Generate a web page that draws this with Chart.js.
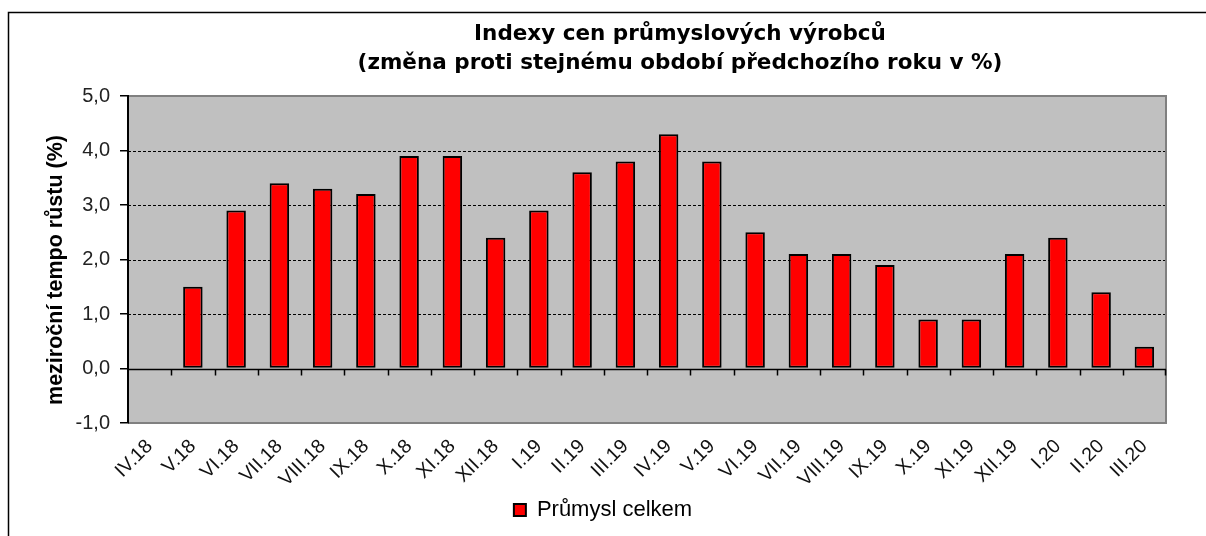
<!DOCTYPE html>
<html>
<head>
<meta charset="utf-8">
<script src="https://cdn.jsdelivr.net/npm/chart.js@4"></script>
<style>
html,body{margin:0;padding:0;background:#fff;}
#c{display:block;}
</style>
</head>
<body>
<canvas id="c" width="1206" height="536" style="width:1206px;height:536px"></canvas>
<script>
// ---- data ----
const titleLines = ['Indexy cen průmyslových výrobců', '(změna proti stejnému období předchozího roku v %)'];
const categories = ['IV.18','V.18','VI.18','VII.18','VIII.18','IX.18','X.18','XI.18','XII.18',
  'I.19','II.19','III.19','IV.19','V.19','VI.19','VII.19','VIII.19','IX.19','X.19','XI.19','XII.19',
  'I.20','II.20','III.20'];
const seriesName = 'Průmysl celkem';
const values = [null, 1.5, 2.9, 3.4, 3.3, 3.2, 3.9, 3.9, 2.4,
  2.9, 3.6, 3.8, 4.3, 3.8, 2.5, 2.1, 2.1, 1.9, 0.9, 0.9, 2.1,
  2.4, 1.4, 0.4];
const yAxisTitle = 'meziroční tempo růstu (%)';
const yMin = -1, yMax = 5, yStep = 1;

// ---- decoration plugin ----
const decor = {
  id: 'decor',
  beforeDraw(chart) {
    const {ctx, chartArea: a, scales: {y}} = chart;
    ctx.save();
    ctx.fillStyle = '#fff';
    ctx.fillRect(0, 0, chart.width, chart.height);
    // outer frame
    ctx.strokeStyle = '#000';
    ctx.lineWidth = 1.5;
    ctx.strokeRect(8.5, 12.5, chart.width + 40, chart.height + 40);
    // plot background
    ctx.fillStyle = '#c0c0c0';
    ctx.fillRect(a.left, a.top, a.right - a.left, a.bottom - a.top);
    // dashed grid
    ctx.strokeStyle = '#000';
    ctx.lineWidth = 1;
    ctx.setLineDash([3, 2]);
    y.ticks.forEach(t => {
      if (t.value > yMin && t.value < yMax && t.value !== 0) {
        const py = Math.round(y.getPixelForValue(t.value)) + 0.5;
        ctx.beginPath(); ctx.moveTo(a.left, py); ctx.lineTo(a.right, py); ctx.stroke();
      }
    });
    ctx.setLineDash([]);
    // plot border (gray)
    ctx.strokeStyle = '#808080';
    ctx.lineWidth = 2;
    ctx.beginPath();
    ctx.moveTo(a.left, a.top); ctx.lineTo(a.right, a.top);
    ctx.lineTo(a.right, a.bottom); ctx.lineTo(a.left, a.bottom);
    ctx.stroke();
    ctx.restore();
  },
  afterDatasetsDraw(chart) {
    const {ctx, chartArea: a, scales: {x, y}} = chart;
    ctx.save();
    const y0 = Math.round(y.getPixelForValue(0)) + 0.5;
    ctx.strokeStyle = '#000';
    ctx.lineWidth = 1.5;
    ctx.beginPath(); ctx.moveTo(a.left, y0); ctx.lineTo(a.right, y0); ctx.stroke();
    const n = categories.length;
    for (let i = 1; i <= n; i++) {
      const xx = i < n ? Math.round((x.getPixelForValue(i - 1) + x.getPixelForValue(i)) / 2) + 0.5 : a.right - 0.5;
      ctx.beginPath(); ctx.moveTo(xx, y0); ctx.lineTo(xx, y0 + 6); ctx.stroke();
    }
    ctx.restore();
  },
  afterDraw(chart) {
    const {ctx, chartArea: a} = chart;
    ctx.save();
    ctx.fillStyle = '#000';
    ctx.font = 'bold 21.5px "DejaVu Sans"';
    ctx.textAlign = 'center';
    ctx.textBaseline = 'middle';
    ctx.fillText(titleLines[0], 680, 34);
    ctx.fillText(titleLines[1], 680, 63);
    // y axis title
    ctx.font = 'bold 21.5px "Liberation Sans", Arial, sans-serif';
    ctx.translate(56, 270);
    ctx.rotate(-Math.PI / 2);
    ctx.fillText(yAxisTitle, 0, 0);
    ctx.restore();
  }
};

new Chart(document.getElementById('c'), {
  type: 'bar',
  data: {
    labels: categories,
    datasets: [{
      label: seriesName,
      data: values,
      backgroundColor: '#ff0000',
      borderColor: '#000000',
      borderWidth: 2,
      borderSkipped: false,
      barPercentage: 0.45,
      categoryPercentage: 1.0
    }]
  },
  options: {
    responsive: false,
    animation: false,
    layout: { padding: { left: 40, right: 40, top: 96, bottom: 5 } },
    plugins: {
      title: { display: false },
      tooltip: { enabled: false },
      legend: {
        position: 'bottom',
        labels: {
          boxWidth: 12, boxHeight: 12, padding: 15,
          color: '#000',
          font: { family: '"Liberation Sans", Arial, sans-serif', size: 22 }
        }
      }
    },
    scales: {
      x: {
        grid: { display: false },
        border: { display: false },
        ticks: {
          autoSkip: false, maxRotation: 45, minRotation: 45, padding: 4,
          color: '#111',
          font: { family: '"Liberation Sans", Arial, sans-serif', size: 19.5 }
        },
        afterFit(s) { s.height = 61; }
      },
      y: {
        min: yMin, max: yMax,
        ticks: {
          stepSize: yStep, padding: 10, color: '#222',
          font: { family: '"Liberation Sans", Arial, sans-serif', size: 20 },
          callback: v => v.toFixed(1).replace('.', ',')
        },
        grid: { display: true, drawOnChartArea: false, drawTicks: true, tickLength: 8, color: '#000', lineWidth: 1.5 },
        border: { display: true, color: '#000', width: 2 },
        title: { display: false },
        afterFit(s) { s.width = 88; }
      }
    }
  },
  plugins: [decor]
});
</script>
</body>
</html>
